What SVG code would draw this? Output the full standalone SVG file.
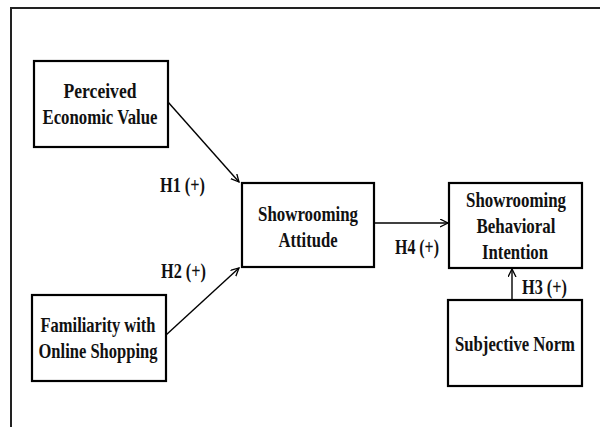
<svg xmlns="http://www.w3.org/2000/svg" width="600" height="427" viewBox="0 0 600 427">
<style>
.box{fill:#fff;stroke:#000;stroke-width:2.2}
.t{font-family:"Liberation Serif","Times New Roman",serif;font-weight:bold;font-size:21px;fill:#111;text-anchor:middle}
.lbl{font-family:"Liberation Serif","Times New Roman",serif;font-weight:bold;font-size:21px;fill:#111}
.c{stroke:#000;stroke-width:1.4;fill:none;marker-end:url(#arr)}
</style>
<defs>
<marker id="arr" markerWidth="10" markerHeight="10" refX="8" refY="4" orient="auto" markerUnits="userSpaceOnUse">
<path d="M0,0 L8,4 L0,8" fill="none" stroke="#000" stroke-width="1.3"/>
</marker>
</defs>
<rect width="600" height="427" fill="#fff"/>
<path d="M11,427 L11,8 L600,8" fill="none" stroke="#222" stroke-width="2"/>
<g id="connectors">
<line class="c" x1="168" y1="102" x2="239" y2="182"/>
<line class="c" x1="166" y1="335" x2="239" y2="268"/>
<line class="c" x1="374" y1="223" x2="448" y2="223"/>
<line class="c" x1="512" y1="300" x2="512" y2="269"/>
<text class="lbl" x="160" y="192" textLength="45" lengthAdjust="spacingAndGlyphs">H1 (+)</text>
<text class="lbl" x="161" y="278" textLength="45" lengthAdjust="spacingAndGlyphs">H2 (+)</text>
<text class="lbl" x="395" y="254" textLength="44" lengthAdjust="spacingAndGlyphs">H4 (+)</text>
<text class="lbl" x="522" y="294" textLength="45" lengthAdjust="spacingAndGlyphs">H3 (+)</text>
</g>
<g id="perceived">
<rect class="box" x="34" y="61" width="134" height="86"/>
<text class="t" x="100" y="98" textLength="73" lengthAdjust="spacingAndGlyphs">Perceived</text>
<text class="t" x="100" y="124" textLength="115" lengthAdjust="spacingAndGlyphs">Economic Value</text>
</g>
<g id="familiarity">
<rect class="box" x="32" y="295" width="134" height="86"/>
<text class="t" x="98" y="332" textLength="115" lengthAdjust="spacingAndGlyphs">Familiarity with</text>
<text class="t" x="98" y="358" textLength="119" lengthAdjust="spacingAndGlyphs">Online Shopping</text>
</g>
<g id="attitude">
<rect class="box" x="242" y="183" width="132" height="84"/>
<text class="t" x="308" y="221" textLength="100" lengthAdjust="spacingAndGlyphs">Showrooming</text>
<text class="t" x="308" y="247" textLength="59" lengthAdjust="spacingAndGlyphs">Attitude</text>
</g>
<g id="intention">
<rect class="box" x="449" y="183" width="133" height="85"/>
<text class="t" x="516" y="207" textLength="100" lengthAdjust="spacingAndGlyphs">Showrooming</text>
<text class="t" x="516" y="233" textLength="79" lengthAdjust="spacingAndGlyphs">Behavioral</text>
<text class="t" x="515" y="259" textLength="66" lengthAdjust="spacingAndGlyphs">Intention</text>
</g>
<g id="norm">
<rect class="box" x="448" y="300" width="134" height="86"/>
<text class="t" x="515" y="351" textLength="120" lengthAdjust="spacingAndGlyphs">Subjective Norm</text>
</g>
</svg>
